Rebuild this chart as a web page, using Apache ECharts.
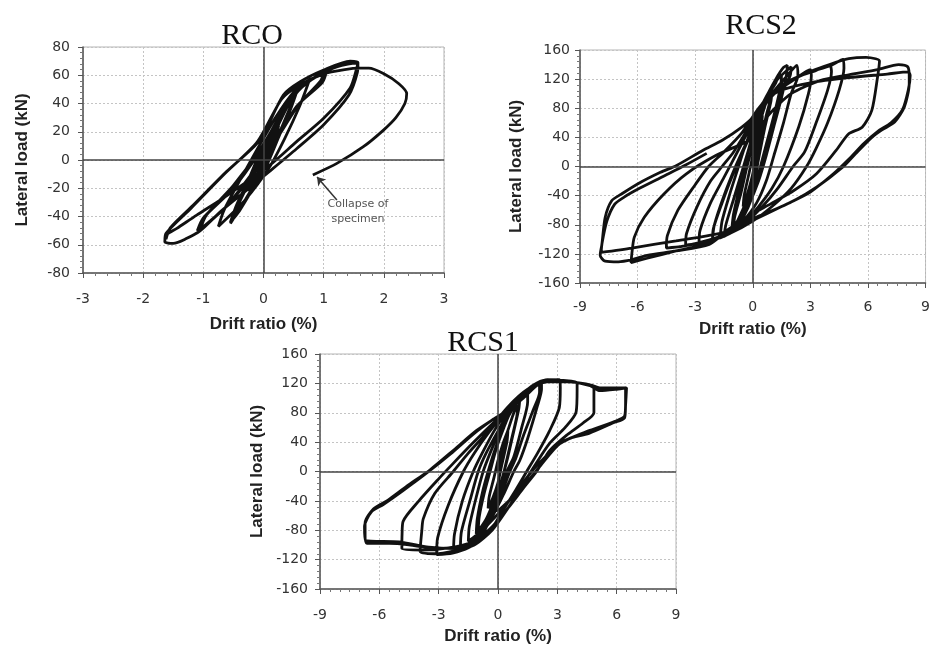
<!DOCTYPE html>
<html>
<head>
<meta charset="utf-8">
<script src="https://cdn.jsdelivr.net/npm/echarts@6/dist/echarts.min.js"></script>
<style>
html,body{margin:0;padding:0;background:#fff;}
#c{width:933px;height:646px;}
</style>
</head>
<body>
<div id="c"></div>
<script>
// ---------- tick labels ----------
const rcoXTicks = [-3, -2, -1, 0, 1, 2, 3];
const rcoYTicks = [-80, -60, -40, -20, 0, 20, 40, 60, 80];
const rcsXTicks = [-9, -6, -3, 0, 3, 6, 9];
const rcsYTicks = [-160, -120, -80, -40, 0, 40, 80, 120, 160];

// ---------- RCO cycles (drift %, load kN) ----------
const rcoC1 = [[0,0],[0.1,10],[0.25,24],[0.2,15],[0.05,2],[-0.1,-10],[-0.25,-22],[-0.2,-14],[-0.05,-2],[0.1,12],[0.25,25]];
const rcoC2 = [[0.4,38],[0.55,48],[0.45,36],[0.25,16],[0.05,-4],[-0.2,-22],[-0.4,-36],[-0.55,-44],[-0.45,-32],[-0.25,-14],[-0.05,6],[0.2,26],[0.4,42],[0.55,49]];
const rcoC3 = [[0.45,38],[0.2,13],[0,-6],[-0.3,-28],[-0.55,-45],[-0.4,-30],[-0.15,-8],[0.1,16],[0.35,38],[0.5,47]];
const rcoC3b = [[0.75,55],[0.6,38],[0.35,15],[0.1,-5],[-0.3,-28],[-0.75,-47],[-0.65,-35],[-0.4,-15],[-0.1,8],[0.2,30],[0.5,48],[0.75,56]];
const rcoC4 = [[1.05,63],[0.98,55],[0.55,38],[0.22,15],[-0.2,-10],[-0.6,-32],[-0.9,-44],[-1.1,-50],[-1.0,-41],[-0.5,-20],[-0.06,6],[0.33,34],[0.6,50],[1.0,63]];
const rcoC5 = [[0.95,56],[0.6,40],[0.25,17],[-0.15,-8],[-0.55,-30],[-1.05,-49],[-0.95,-39],[-0.5,-18],[-0.05,8],[0.35,36],[0.65,52],[1.0,62]];
const rcoC6 = [[1.3,67],[1.57,69],[1.55,65],[1.44,51],[1.0,29.5],[0.55,13],[0.11,-3.5],[-0.28,-15.4],[-0.67,-27],[-1.11,-39],[-1.44,-48.4],[-1.61,-53],[-1.62,-56],[-1.55,-48],[-1.17,-32],[-0.61,-8],[-0.06,14],[0.33,46],[0.61,55.4],[1.0,63.7],[1.44,70],[1.57,69]];
const rcoC7 = [[1.56,62],[1.42,46],[1.0,25],[0.55,8],[0.1,-8],[-0.3,-22],[-0.7,-36],[-1.05,-50],[-1.3,-56],[-1.5,-59],[-1.64,-58],[-1.62,-52],[-1.2,-34],[-0.65,-10],[-0.1,13],[0.3,43],[0.6,53],[1.0,61],[1.35,64],[1.6,65],[1.75,65],[2.0,61],[2.25,54],[2.38,47],[2.35,40],[2.2,30],[1.99,21],[1.66,9.4],[1.22,-2.4],[0.82,-10.6]];
const rcoArrow = [[1.22,-28.3],[0.89,-12]];
const rcoNote = [1.57,-36.5];

// ---------- RCS2 cycles ----------
const rcs2C1 = [[0,0],[0.2,30],[0.5,70],[0.45,55],[0.2,20],[0,-10],[-0.25,-35],[-0.5,-55],[-0.45,-40],[-0.2,-10],[0,15],[0.25,45],[0.5,72]];
const rcs2C2 = [[0.8,95],[1.0,105],[0.95,90],[0.6,50],[0.3,10],[0.05,-25],[-0.3,-55],[-0.7,-75],[-1.0,-85],[-0.95,-70],[-0.6,-35],[-0.3,0],[0,30],[0.3,60],[0.7,90],[1.0,108]];
const rcs2C2b = [[0.95,95],[0.7,70],[0.4,30],[0.1,-10],[-0.3,-45],[-0.8,-75],[-1.1,-88],[-1.0,-65],[-0.7,-30],[-0.4,5],[-0.1,35],[0.3,70],[0.8,98],[1.2,115]];
const rcs2C3 = [[1.3,122],[1.5,126],[1.45,110],[1.1,70],[0.7,30],[0.3,-10],[0,-40],[-0.5,-70],[-1.0,-88],[-1.5,-96],[-1.4,-80],[-1.0,-45],[-0.6,-10],[-0.2,25],[0.2,60],[0.7,95],[1.2,120],[1.6,136],[1.8,139]];
const rcs2C3b = [[1.75,125],[1.5,95],[1.1,55],[0.7,15],[0.3,-20],[-0.2,-52],[-0.8,-80],[-1.3,-93],[-1.7,-98],[-1.6,-75],[-1.2,-38],[-0.8,-5],[-0.4,28],[0.1,62],[0.7,96],[1.3,120],[2.0,137]];
const rcs2C4 = [[1.95,125],[1.5,100],[1.1,60],[0.7,20],[0.3,-15],[-0.2,-48],[-0.8,-75],[-1.4,-92],[-2.1,-100],[-2.05,-85],[-1.6,-50],[-1.1,-15],[-0.6,15],[-0.1,45],[0.4,75],[1.0,100],[1.7,122],[2.3,139],[2.35,125],[2.0,100],[1.6,60],[1.1,15],[0.7,-20],[0.2,-50],[-0.5,-75],[-1.2,-92],[-2.1,-101],[-2.0,-80],[-1.5,-40],[-0.9,0],[-0.3,35],[0.4,75],[1.2,102],[2.2,120],[3.0,133]];
const rcs2C5 = [[3.05,125],[2.9,100],[2.4,55],[1.6,0],[1.0,-30],[0.3,-55],[-0.5,-78],[-1.5,-95],[-2.8,-105],[-2.75,-88],[-2.2,-50],[-1.5,-15],[-1.1,5],[-0.6,30],[0,60],[0.7,90],[1.5,112],[2.5,125],[3.3,132],[4.0,140]];
const rcs2C6 = [[4.1,130],[3.9,105],[3.3,60],[2.7,20],[2.1,0],[1.3,-30],[0.5,-55],[-0.5,-80],[-1.8,-97],[-3.0,-106],[-3.5,-108],[-3.45,-92],[-2.9,-55],[-2.2,-20],[-1.6,0],[-1.0,20],[-0.3,50],[0.5,85],[1.5,110],[2.8,128],[4.0,138],[4.7,147]];
const rcs2C7 = [[4.75,135],[4.5,105],[3.9,60],[3.3,25],[2.8,0],[2.0,-30],[1.0,-55],[0,-75],[-1.2,-92],[-2.5,-104],[-3.8,-110],[-4.5,-112],[-4.45,-95],[-3.9,-60],[-3.0,-25],[-2.3,0],[-1.5,20],[-0.6,45],[0.3,80],[1.2,105],[2.5,125],[4.0,140],[5.0,148],[5.9,150]];
const rcs2C8 = [[6.4,148],[6.6,145],[6.5,123],[6.2,77],[5.7,54],[5.0,45],[4.34,22],[3.32,-10],[2.14,-33],[0.95,-51],[-0.07,-66],[-1.2,-85],[-2.3,-105],[-4.0,-116],[-5.5,-126],[-6.34,-132],[-6.3,-120],[-6.17,-97],[-5.66,-70],[-4.64,-38],[-3.46,-10],[-1.93,15],[-0.57,31],[0.1,40],[0.8,70],[2,100],[3.5,118],[5,126],[6.5,133],[7.6,140],[8.07,137]];
const rcs2C9 = [[8.15,123],[8.15,114],[7.9,82],[7.39,61],[6.71,50],[6.2,40],[5.35,17.5],[4.68,-1],[3.32,-28.5],[2.14,-47],[0.61,-65],[-0.41,-76],[-1.4,-90],[-2.27,-107],[-4,-116],[-5.5,-122],[-6.3,-128],[-7.0,-131],[-7.69,-130],[-7.95,-122],[-7.86,-107],[-7.69,-70],[-7.35,-47],[-6.85,-38],[-6.0,-24],[-4.81,-8],[-3.97,1.4],[-2.61,22],[-1.59,36],[-0.57,54],[0.1,70],[0.6,90],[1.5,105],[3,115],[5,122],[7,127],[8.1,130]];
const rcs2C10 = [[8.2,125],[8.1,105],[7.8,78],[7.2,60],[6.5,48],[5.8,32],[5.0,10],[4.2,-10],[3.0,-35],[1.5,-55],[0,-74],[-1.42,-90],[-4,-102],[-6.3,-112],[-7.9,-118],[-7.85,-105],[-7.6,-75],[-7.2,-52],[-6.7,-42],[-5.9,-30],[-4.7,-14],[-3.5,2],[-2.4,18]];

// ---------- RCS1 cycles ----------
const rcs1C1 = [[0,0],[0.2,25],[0.5,55],[0.45,40],[0.2,10],[0,-15],[-0.25,-35],[-0.5,-50],[-0.45,-35],[-0.2,-8],[0,15],[0.25,38],[0.5,56]];
const rcs1C2 = [[0.8,80],[1.0,90],[0.95,75],[0.65,40],[0.35,5],[0.1,-25],[-0.3,-50],[-0.7,-70],[-1.0,-80],[-0.95,-62],[-0.7,-30],[-0.4,0],[-0.1,30],[0.3,60],[0.7,85],[1.1,98]];
const rcs1C2b = [[1.05,85],[0.8,55],[0.5,20],[0.2,-10],[-0.2,-40],[-0.6,-65],[-1.1,-85],[-1.05,-65],[-0.8,-30],[-0.5,0],[-0.15,30],[0.3,62],[0.8,88],[1.3,105]];
const rcs1C3 = [[1.5,110],[1.5,95],[1.2,60],[0.8,20],[0.45,0],[0.1,-30],[-0.4,-60],[-0.9,-82],[-1.5,-95],[-1.45,-75],[-1.1,-35],[-0.75,0],[-0.4,25],[0,50],[0.6,80],[1.3,105],[2.1,122]];
const rcs1C3b = [[2.1,108],[1.8,85],[1.3,50],[0.9,18],[0.6,0],[0.2,-28],[-0.3,-58],[-0.9,-85],[-1.6,-100],[-1.9,-104],[-1.85,-82],[-1.4,-38],[-1.0,0],[-0.6,25],[0,55],[0.7,88],[1.6,112],[2.2,121]];
const rcs1C4 = [[2.2,112],[2.0,90],[1.5,45],[1.1,15],[0.8,0],[0.3,-30],[-0.3,-62],[-1.0,-88],[-1.6,-100],[-2.25,-108],[-2.2,-85],[-1.8,-40],[-1.25,0],[-0.8,25],[-0.2,55],[0.6,88],[1.5,112],[2.3,124],[3.1,125]];
const rcs1C5 = [[3.15,114],[3.1,87],[2.6,55],[2.0,25],[1.45,0],[0.9,-25],[0.2,-55],[-0.5,-85],[-1.5,-104],[-2.3,-111],[-3.1,-113],[-3.05,-90],[-2.5,-45],[-1.75,0],[-1.2,25],[-0.5,52],[0.5,85],[1.5,112],[2.5,125],[3.3,124],[4.0,121]];
const rcs1C6 = [[4.0,112],[3.95,81],[3.4,60],[2.6,38],[1.9,10],[1.2,-20],[0.5,-50],[-0.3,-80],[-1.2,-100],[-2.2,-108],[-3.2,-112],[-3.94,-109],[-3.85,-80],[-3.78,-64.5],[-3.2,-30],[-2.26,0],[-1.5,25],[-0.6,52],[0.5,88],[1.5,112],[2.5,122],[3.5,122],[4.8,117]];
const rcs1C7 = [[4.85,113],[4.85,80],[4.3,66],[3.5,50],[2.6,28],[1.95,0],[1.3,-22],[0.5,-50],[-0.4,-78],[-1.3,-96],[-2.5,-104],[-3.8,-107],[-4.86,-105],[-4.85,-85],[-4.8,-68],[-4.0,-40],[-3.0,-10],[-2.3,10],[-1.3,38],[-0.4,62],[0.4,82],[1.28,100],[2.12,120],[2.96,124],[4.65,118],[5.15,114],[6.33,114],[6.45,114]];
const rcs1C8 = [[6.45,95],[6.41,76],[6.0,69],[4.65,56],[3.13,38],[2.12,7],[1.28,-20],[0.1,-51],[-0.24,-55.5],[-0.91,-91],[-1.92,-102],[-3.1,-105],[-4.5,-100],[-5.5,-98],[-6.63,-98],[-6.72,-85],[-6.72,-70],[-6.3,-51],[-5.62,-40],[-4.61,-20],[-3.43,2.4],[-2.25,29],[-1.08,56],[-0.07,74],[0.61,85],[1.28,100],[2.12,122],[2.96,124],[4.65,117],[5.15,110],[6.0,112],[6.5,114]];
const rcs1C9 = [[6.45,90],[6.4,73],[5.8,66],[4.6,52],[3.6,45],[3.1,38],[2.4,20],[1.7,0],[1.0,-25],[0.2,-52],[-0.5,-72],[-1.2,-95],[-2.2,-105],[-3.5,-103],[-5,-96],[-6.7,-94],[-6.75,-75],[-6.4,-55],[-5.8,-45],[-4.8,-26],[-3.6,-2],[-2.4,24],[-1.2,52],[-0.2,72]];

const rcoData = [].concat(rcoC1, rcoC2, rcoC3, rcoC3b, rcoC4, rcoC5, rcoC6, rcoC7);
const rcs2Data = [].concat(rcs2C1, rcs2C2, rcs2C2b, rcs2C3, rcs2C3b, rcs2C4, rcs2C5, rcs2C6, rcs2C7, rcs2C8, rcs2C9, rcs2C10);
const rcs1Data = [].concat(rcs1C1, rcs1C2, rcs1C2b, rcs1C3, rcs1C3b, rcs1C4, rcs1C5, rcs1C6, rcs1C7, rcs1C8, rcs1C9);

const LABEL_FONT = 'DejaVu Sans';
const NAME_FONT = 'Liberation Sans';

function makeX(ticks, gi, minorSplit, nameGap, margin) {
  return {
    type: 'value', gridIndex: gi,
    min: ticks[0], max: ticks[ticks.length - 1], interval: ticks[1] - ticks[0],
    name: 'Drift ratio (%)', nameLocation: 'middle', nameGap: nameGap,
    nameTextStyle: {fontFamily: NAME_FONT, fontWeight: 'bold', fontSize: 17, color: '#222'},
    axisLine: {show: true, onZero: false, lineStyle: {color: '#555', width: 1.5}},
    axisTick: {show: true, length: 5, lineStyle: {color: '#555'}},
    minorTick: {show: true, splitNumber: minorSplit, length: 3, lineStyle: {color: '#777'}},
    splitLine: {show: true, lineStyle: {color: '#c4c4c4', type: [2, 2], width: 1}},
    axisLabel: {fontFamily: LABEL_FONT, fontSize: 14, color: '#333', margin: margin}
  };
}
function makeY(ticks, gi, minorSplit, nameGap, margin) {
  return {
    type: 'value', gridIndex: gi,
    min: ticks[0], max: ticks[ticks.length - 1], interval: ticks[1] - ticks[0],
    name: 'Lateral load (kN)', nameLocation: 'middle', nameGap: nameGap, nameRotate: 90,
    nameTextStyle: {fontFamily: NAME_FONT, fontWeight: 'bold', fontSize: 17, color: '#222'},
    axisLine: {show: true, onZero: false, lineStyle: {color: '#555', width: 1.5}},
    axisTick: {show: true, length: 5, lineStyle: {color: '#555'}},
    minorTick: {show: true, splitNumber: minorSplit, length: 3, lineStyle: {color: '#777'}},
    splitLine: {show: true, lineStyle: {color: '#c4c4c4', type: [2, 2], width: 1}},
    axisLabel: {fontFamily: LABEL_FONT, fontSize: 14, color: '#333', margin: margin}
  };
}
function zeroLines() {
  return {
    silent: true, symbol: ['none', 'none'], label: {show: false},
    lineStyle: {color: '#444', width: 1.5, type: 'solid'},
    data: [{xAxis: 0}, {yAxis: 0}]
  };
}
function loopSeries(idx, data) {
  return {
    type: 'line', xAxisIndex: idx, yAxisIndex: idx, data: data,
    showSymbol: false, symbol: 'none', smooth: 0.25,
    lineStyle: {color: '#111', width: 2.8},
    markLine: zeroLines(), z: 3
  };
}

const chart = echarts.init(document.getElementById('c'), null, {renderer: 'canvas'});
chart.setOption({
  backgroundColor: '#ffffff',
  animation: false,
  grid: [
    {left: 83, top: 47, width: 361, height: 226, show: true, borderColor: '#b5b5b5', borderWidth: 1},
    {left: 580, top: 50, width: 355, height: 233, show: true, borderColor: '#b5b5b5', borderWidth: 1},
    {left: 320, top: 354, width: 356, height: 239, show: true, borderColor: '#b5b5b5', borderWidth: 1}
  ],
  xAxis: [makeX(rcoXTicks, 0, 5, 43, 19), makeX(rcsXTicks, 1, 6, 38, 17), makeX(rcsXTicks, 2, 6, 39, 19)],
  yAxis: [makeY(rcoYTicks, 0, 5, 52, 13), makeY(rcsYTicks, 1, 5, 55, 10), makeY(rcsYTicks, 2, 5, 54, 12)],
  graphic: [
    {type: 'text', x: 252, y: 36, style: {text: 'RCO', font: '30px "Liberation Serif"', fill: '#111', align: 'center', verticalAlign: 'middle'}},
    {type: 'text', x: 761, y: 26, style: {text: 'RCS2', font: '30px "Liberation Serif"', fill: '#111', align: 'center', verticalAlign: 'middle'}},
    {type: 'text', x: 483, y: 343, style: {text: 'RCS1', font: '30px "Liberation Serif"', fill: '#111', align: 'center', verticalAlign: 'middle'}}
  ],
  series: [
    loopSeries(0, rcoData),
    loopSeries(1, rcs2Data),
    loopSeries(2, rcs1Data),
    {
      type: 'line', xAxisIndex: 0, yAxisIndex: 0, data: [], silent: true,
      markLine: {
        silent: true, symbol: ['none', 'arrow'], symbolSize: 8, label: {show: false},
        lineStyle: {color: '#333', width: 1.5, type: 'solid'},
        data: [[{coord: rcoArrow[0]}, {coord: rcoArrow[1]}]]
      },
      markPoint: {
        silent: true, symbol: 'circle', symbolSize: 0,
        label: {show: true, formatter: 'Collapse of\nspecimen', fontFamily: LABEL_FONT, fontSize: 11, color: '#555', lineHeight: 15, position: 'inside'},
        data: [{coord: rcoNote}]
      }
    }
  ]
});
</script>
</body>
</html>
